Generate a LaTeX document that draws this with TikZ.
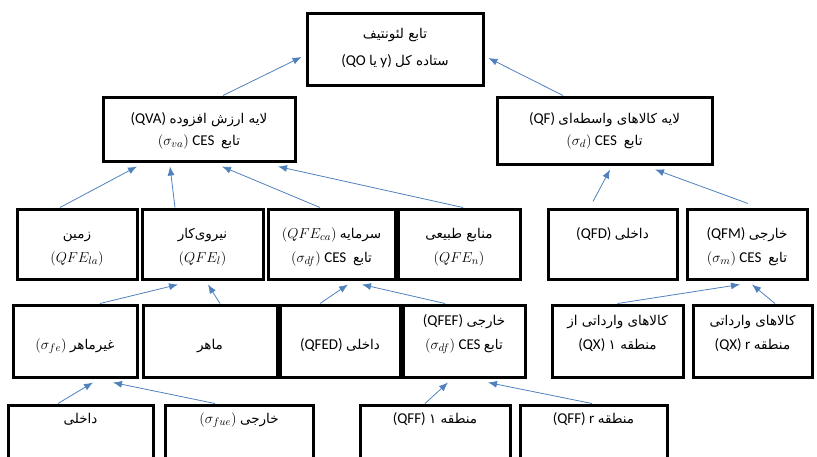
\documentclass[tikz,border=0pt]{standalone}
\usepackage{fontspec}
\setmainfont{Carlito}
\newfontfamily\farsifont[Script=Arabic,Scale=0.9]{DejaVu Sans}
\TeXXeTstate=1
\usetikzlibrary{arrows.meta}
\newcommand{\fatxt}[1]{{\farsifont\beginR #1\endR}}
\definecolor{arrblue}{RGB}{79,129,189}

\begin{document}
\begin{tikzpicture}[x=1pt, y=-1pt,
    box/.style={draw, line width=3pt, inner xsep=2pt, inner ysep=0pt, align=center,
        minimum width=#1, font=\fontsize{15}{24}\selectfont},
    rowtop/.style={text height=52pt, text depth=20pt, font=\fontsize{15}{27}\selectfont},
    rowlayer/.style={text height=48pt, text depth=#1, font=\fontsize{15}{22}\selectfont},
    rowfac/.style={text height=53pt, text depth=17pt},
    rowfacone/.style={text height=29pt, text depth=41pt},
    rowsub/.style={text height=44pt, text depth=28pt, font=\fontsize{15}{24}\selectfont},
    rowlast/.style={text height=18pt, text depth=47pt},
    up/.style={draw=arrblue, line width=0.8pt, -{Latex[length=9pt,width=7pt]}}]
    \clip (0,0) rectangle (817,456);

    % Output
    \node[box=176, rowtop] (out) at (395,49) {\fatxt{تابع لئونتیف}\\(QO \fatxt{یا} y) \fatxt{ستاده کل}};

    % Layers
    \node[box=192, rowlayer=16pt] (qva) at (199,129) {(QVA) \fatxt{لایه ارزش افزوده}\\$(\sigma_{va})$ CES \ \fatxt{تابع}};
    \node[box=215, rowlayer=19pt] (qf) at (604.5,130.5) {(QF) \fatxt{لایه کالاهای واسطه‌ای}\\$(\sigma_{d})$ CES \ \fatxt{تابع}};

    % Factors
    \node[box=120, rowfac] (land) at (77,244) {\fatxt{زمین}\\$(QFE_{la})$};
    \node[box=121, rowfac] (labour) at (202.5,244) {\fatxt{نیروی‌کار}\\$(QFE_{l})$};
    \node[box=127, rowfac] (capital) at (331.5,244) {$(QFE_{ca})$ \fatxt{سرمایه}\\$(\sigma_{df})$ CES \ \fatxt{تابع}};
    \node[box=122, rowfac] (natres) at (459,244) {\fatxt{منابع طبیعی}\\$(QFE_{n})$};
    \node[box=129, rowfacone] (qfd) at (612.5,244) {(QFD) \fatxt{داخلی}};
    \node[box=120, rowfac] (qfm) at (747,244) {(QFM) \fatxt{خارجی}\\$(\sigma_{m})$ CES \ \fatxt{تابع}};

    % Sub factors
    \node[box=124, rowsub] (unskilled) at (75,341) {$(\sigma_{fe})$ \fatxt{غیرماهر}};
    \node[box=134, rowsub] (skilled) at (210,341) {\fatxt{ماهر}};
    \node[box=120, rowsub] (qfed) at (340,341) {(QFED) \fatxt{داخلی}};
    \node[box=122, rowsub] (qfef) at (464,341) {(QFEF) \fatxt{خارجی}\\$(\sigma_{df})$ CES \fatxt{تابع}};
    \node[box=131, rowsub] (qxone) at (617.5,341) {\fatxt{کالاهای وارداتی از}\\(QX) \fatxt{منطقه ۱}};
    \node[box=119, rowsub] (qxr) at (752.5,341) {\fatxt{کالاهای وارداتی}\\(QX) r \fatxt{منطقه}};

    % Last row
    \node[box=145, rowlast] (domlab) at (80.5,437.5) {\fatxt{داخلی}};
    \node[box=148, rowlast] (forlab) at (239,437.5) {$(\sigma_{fue})$ \fatxt{خارجی}};
    \node[box=150, rowlast] (qffone) at (435,437.5) {(QFF) \fatxt{منطقه ۱}};
    \node[box=147, rowlast] (qffr) at (593.5,437.5) {(QFF) r \fatxt{منطقه}};

    % Arrows to output
    \draw[up] ([xshift=24pt]qva.north) -- ([xshift=-4pt,yshift=-8pt]out.west);
    \draw[up] ([xshift=-41.5pt]qf.north) -- ([xshift=4pt,yshift=-9pt]out.east);

    % Arrows to layers
    \draw[up] ([xshift=-17pt]land.north) -- ([xshift=-62pt,yshift=-4pt]qva.south);
    \draw[up] ([xshift=-27.5pt]labour.north) -- ([xshift=-29pt,yshift=-4pt]qva.south);
    \draw[up] ([xshift=-11.5pt]capital.north) -- ([xshift=23pt,yshift=-4pt]qva.south);
    \draw[up] ([xshift=4pt]natres.north) -- ([xshift=79pt,yshift=-4pt]qva.south);
    \draw[up] ([xshift=-19.5pt,yshift=6pt]qfd.north) -- ([xshift=5.5pt,yshift=-4pt]qf.south);
    \draw[up] ([xshift=1pt,yshift=4pt]qfm.north) -- ([xshift=50.5pt,yshift=-4pt]qf.south);

    % Arrows to factors
    \draw[up] ([xshift=25pt]unskilled.north) -- ([xshift=-24.5pt,yshift=-4pt]labour.south);
    \draw[up] ([xshift=10pt]skilled.north) -- ([xshift=5.5pt,yshift=-4pt]labour.south);
    \draw[up] ([xshift=-20pt]qfed.north) -- ([xshift=16.5pt,yshift=-4pt]capital.south);
    \draw[up] ([xshift=-19pt]qfef.north) -- ([xshift=30.5pt,yshift=-4pt]capital.south);
    \draw[up] ([xshift=0pt]qxone.north) -- ([xshift=-7pt,yshift=-4pt]qfm.south);
    \draw[up] ([xshift=22.5pt]qxr.north) -- ([xshift=5pt,yshift=-4pt]qfm.south);

    % Arrows to sub factors
    \draw[up] ([xshift=-22.5pt]domlab.north) -- ([xshift=18pt,yshift=-4pt]unskilled.south);
    \draw[up] ([xshift=-24pt]forlab.north) -- ([xshift=38pt,yshift=-4pt]unskilled.south);
    \draw[up] ([xshift=-10pt]qffone.north) -- ([xshift=-16pt,yshift=-4pt]qfef.south);
    \draw[up] ([xshift=-1.5pt]qffr.north) -- ([xshift=24pt,yshift=-4pt]qfef.south);
\end{tikzpicture}
\end{document}
